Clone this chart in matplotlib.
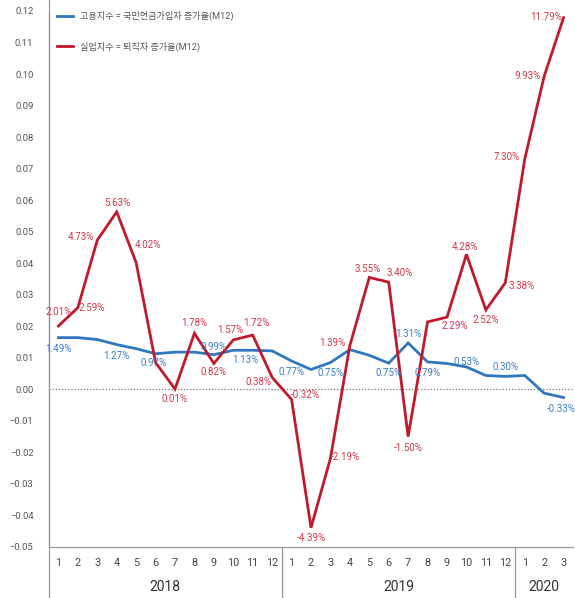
import matplotlib
matplotlib.use("Agg")
import matplotlib.pyplot as plt

plt.rcParams['font.family'] = ['Roboto', 'Noto Sans CJK KR', 'DejaVu Sans']

years = ["2018", "2019", "2020"]
months_per_year = [12, 12, 3]
month_labels = [str(m) for n in months_per_year for m in range(1, n + 1)]

# 실업지수 (red) values in %
unemp = [2.01, 2.59, 4.73, 5.63, 4.02, 0.85, 0.01, 1.78, 0.82, 1.57, 1.72, 0.38,
         -0.32, -4.39, -2.19, 1.39, 3.55, 3.40, -1.50, 2.14, 2.29, 4.28, 2.52, 3.38,
         7.30, 9.93, 11.79]
unemp_labels = ["2.01%", "2.59%", "4.73%", "5.63%", "4.02%", "", "0.01%", "1.78%", "0.82%",
                "1.57%", "1.72%", "0.38%", "-0.32%", "-4.39%", "-2.19%", "1.39%", "3.55%",
                "3.40%", "-1.50%", "", "2.29%", "4.28%", "2.52%", "3.38%", "7.30%", "9.93%",
                "11.79%"]
# 고용지수 (blue) values in %
emp = [1.64, 1.64, 1.58, 1.42, 1.29, 1.13, 1.18, 1.18, 1.10, 1.24, 1.24, 1.22,
       0.90, 0.63, 0.85, 1.26, 1.08, 0.83, 1.47, 0.87, 0.82, 0.71, 0.44, 0.41,
       0.44, -0.12, -0.26]
emp_labels = ["1.49%", "", "", "1.27%", "", "0.97%", "", "", "0.99%", "", "1.13%", "",
              "0.77%", "", "0.75%", "", "", "0.75%", "1.31%", "0.79%", "", "0.53%", "",
              "0.30%", "", "", "-0.33%"]

legend_labels = ["고용지수 = 국민연금가입자 증가율(M12)", "실업지수 = 퇴직자 증가율(M12)"]

# label offsets in pixels (style only)
red_off = [(0, 14), (14, 0), (-16, 3), (1, 9), (12, 18), (0, 0), (0, -10), (0, 10), (0, -9),
           (-3, 10), (4, 12), (-14, -5), (14, 4), (0, -10), (15, 1), (-18, 3), (-2, 8),
           (11, 9), (0, -11), (0, 0), (8, -9), (-2, 7), (0, -10), (16, -3), (-18, 2),
           (-17, 0), (-18, 1)]
blue_off = [(0, -11), (0, 0), (0, 0), (0, -11), (0, 0), (-2, -9), (0, 0), (0, 0), (0, 8),
            (0, 0), (-7, -10), (0, 0), (0, -11), (0, 0), (0, -10), (0, 0), (0, 0), (0, -10),
            (0, 9), (0, -11), (0, 0), (0, 5), (0, 0), (0, 9), (0, 0), (0, 0), (-2, -11)]

RED = "#C01A2C"
RED_T = "#D0384A"
BLUE = "#2F78BE"
BLUE_T = "#3C7DC2"

fig = plt.figure(figsize=(5.75, 5.98), dpi=100)
ax = fig.add_axes([48.7 / 575, 1 - 547 / 598, 524.6 / 575, 536 / 598])

x = list(range(len(month_labels)))
yr = [v / 100 for v in unemp]
yb = [v / 100 for v in emp]

ax.axhline(0, color="#777777", linestyle=(0, (1, 1.5)), linewidth=0.9, zorder=1)
lb, = ax.plot(x, yb, color=BLUE, linewidth=2.0, zorder=3, solid_joinstyle="miter")
lr, = ax.plot(x, yr, color=RED, linewidth=2.0, zorder=4, solid_joinstyle="miter")

for i, (v, t) in enumerate(zip(yr, unemp_labels)):
    if t:
        dx, dy = red_off[i]
        ax.annotate(t, (i, v), xytext=(dx, dy), textcoords="offset pixels",
                    ha="center", va="center", fontsize=7.0, color=RED_T, zorder=5)
for i, (v, t) in enumerate(zip(yb, emp_labels)):
    if t:
        dx, dy = blue_off[i]
        ax.annotate(t, (i, v), xytext=(dx, dy), textcoords="offset pixels",
                    ha="center", va="center", fontsize=7.0, color=BLUE_T, zorder=5)

ax.set_xlim(-0.5, len(x) - 0.5)
ax.set_ylim(-0.05, 0.12)
ax.set_yticks([i / 100 for i in range(-5, 13)])
ax.set_yticklabels([f"{i/100:.2f}".replace("-", "\u2212") for i in range(-5, 13)])
ax.tick_params(axis="y", length=0, pad=11, labelsize=6.8, labelcolor="#555555")
ax.set_xticks(x)
ax.set_xticklabels(month_labels)
ax.tick_params(axis="x", length=0, pad=8, labelsize=7.8, labelcolor="#444444")

for s in ["top", "right"]:
    ax.spines[s].set_visible(False)
for s in ["left", "bottom"]:
    ax.spines[s].set_color("#999999")
    ax.spines[s].set_linewidth(0.9)

# group separators and year labels
trans = ax.get_xaxis_transform()
bottom_frac = -51 / 536
ax.plot([-0.5, -0.5], [bottom_frac, 1.02], transform=trans, color="#999999",
        linewidth=0.9, clip_on=False)
start = 0
for n, yname in zip(months_per_year, years):
    end = start + n
    ax.text((start + end - 1) / 2, -40 / 536, yname, transform=trans, ha="center",
            va="center", fontsize=10, color="#333333")
    if end < len(x):
        ax.plot([end - 0.5, end - 0.5], [bottom_frac, 0], transform=trans,
                color="#999999", linewidth=0.9, clip_on=False)
    start = end

leg = ax.legend([lb, lr], legend_labels, loc="upper left", bbox_to_anchor=(0.0, 1.015),
                frameon=False, fontsize=6.6, handlelength=1.7, handletextpad=0.8,
                labelspacing=2.2, labelcolor="#555555")

fig.savefig("out.png", dpi=100)
